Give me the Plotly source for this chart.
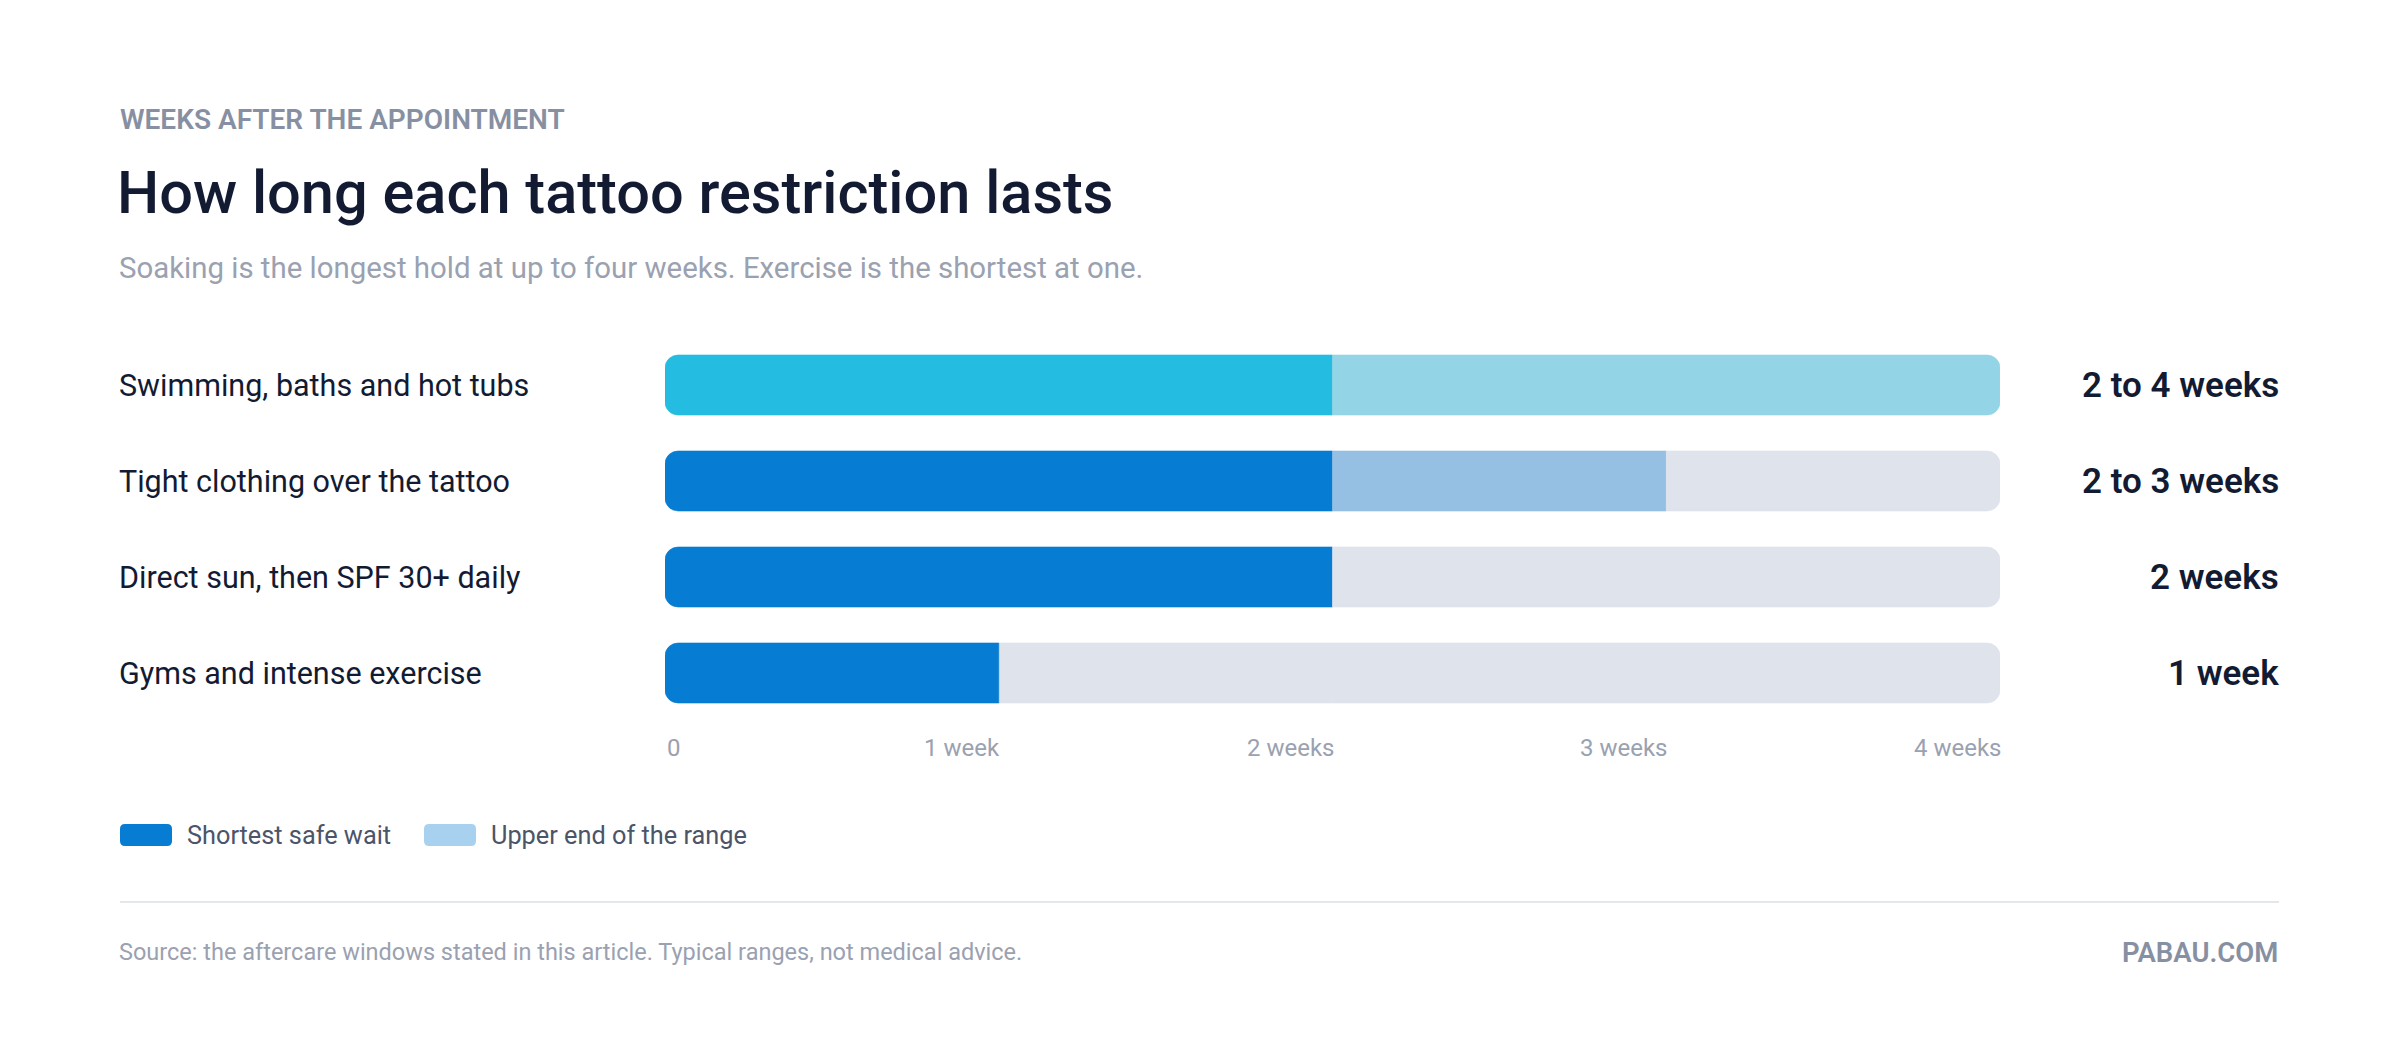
'''Horizontal range bars: how long each tattoo restriction lasts'''
import plotly.graph_objects as go

# Chart data
categories = [
    "Swimming, baths and hot tubs",
    "Tight clothing over the tattoo",
    "Direct sun, then SPF 30+ daily",
    "Gyms and intense exercise",
]
shortest_weeks = [2, 2, 2, 1]
longest_weeks = [4, 3, 2, 1]
range_labels = ["2 to 4 weeks", "2 to 3 weeks", "2 weeks", "1 week"]
highlight = "Swimming, baths and hot tubs"

axis_max = 4
tick_vals = [0, 1, 2, 3, 4]
tick_text = ["0", "1 week", "2 weeks", "3 weeks", "4 weeks"]

legend_labels = ["Shortest safe wait", "Upper end of the range"]

# Colours
BLUE = "#067CD2"
BLUE_LIGHT = "#95BFE3"
CYAN = "#24BDE1"
CYAN_LIGHT = "#93D4E6"
TRACK = "#DFE3EC"
LEGEND_LIGHT = "#A8D0EF"
INK = "#131B33"
MUTED = "#9AA1B0"
EYEBROW = "#8790A2"

FONT = "Roboto"

# Canvas and plot area in pixels
W, H = 2400, 1058
ML, MR, MT, MB = 665, 400, 337, 337
PW, PH = W - ML - MR, H - MT - MB
RADIUS = 13


def px_x(x):
    return (x - ML) / PW


def px_y(y):
    return (H - MB - y) / PH


def split(a, b, pivot):
    '''Length of [a, b] left and right of the pivot (None when empty).'''
    left = max(0, min(b, pivot) - a)
    right = max(0, b - max(a, pivot))
    return (-left if left else None), (right if right else None)


def main():
    n = len(categories)
    # bars are stacked outward from the middle of the scale (relative mode),
    # so only the two outer ends of every row get rounded corners
    pivot = axis_max / 2
    main_col = [CYAN if c == highlight else BLUE for c in categories]
    range_col = [CYAN_LIGHT if c == highlight else BLUE_LIGHT for c in categories]

    parts = {"main": ([], []), "range": ([], []), "track": ([], [])}
    for lo, hi in zip(shortest_weeks, longest_weeks):
        for key, (a, b) in zip(["main", "range", "track"],
                               [(0, lo), (lo, hi), (hi, axis_max)]):
            left, right = split(a, b, pivot)
            parts[key][0].append(left)
            parts[key][1].append(right)

    colours = {"main": main_col, "range": range_col, "track": [TRACK] * n}

    fig = go.Figure()
    # left half: nearest the middle first, then right half
    order = [(0, "track"), (0, "range"), (0, "main"),
             (1, "main"), (1, "range"), (1, "track")]
    for side, key in order:
        fig.add_trace(go.Bar(
            x=parts[key][side], y=categories, orientation="h",
            marker=dict(color=colours[key], cornerradius=RADIUS,
                        line=dict(color=colours[key], width=0.6)),
            hoverinfo="skip", showlegend=False,
        ))

    annotations = []

    # category names and range labels
    for cat, lab in zip(categories, range_labels):
        annotations.append(dict(
            x=px_x(117), y=cat, xref="paper", yref="y", text=cat,
            xanchor="left", yanchor="middle", showarrow=False,
            font=dict(family=FONT, size=30.5, color=INK),
        ))
        annotations.append(dict(
            x=px_x(2281), y=cat, xref="paper", yref="y", text=lab,
            xanchor="right", yanchor="middle", showarrow=False,
            font=dict(family=FONT, size=35, color=INK, weight=600),
        ))

    # x tick labels
    for i, (tv, tt) in enumerate(zip(tick_vals, tick_text)):
        annotations.append(dict(
            x=tv - pivot, y=px_y(748), xref="x", yref="paper", text=tt,
            xanchor="left" if i == 0 else "right", yanchor="middle",
            xshift=0 if i == 0 else 3,
            showarrow=False, font=dict(family=FONT, size=24, color=MUTED),
        ))

    # header
    annotations += [
        dict(x=px_x(118), y=px_y(119), xref="paper", yref="paper",
             text="WEEKS AFTER THE APPOINTMENT", xanchor="left", yanchor="middle",
             showarrow=False, font=dict(family=FONT, size=28, color=EYEBROW, weight=600)),
        dict(x=px_x(115), y=px_y(193), xref="paper", yref="paper",
             text="How long each tattoo restriction lasts", xanchor="left", yanchor="middle",
             showarrow=False, font=dict(family=FONT, size=59.5, color=INK, weight=500)),
        dict(x=px_x(117), y=px_y(268), xref="paper", yref="paper",
             text="Soaking is the longest hold at up to four weeks. Exercise is the shortest at one.",
             xanchor="left", yanchor="middle", showarrow=False,
             font=dict(family=FONT, size=29.4, color=MUTED)),
    ]

    # footer
    annotations += [
        dict(x=px_x(117), y=px_y(952), xref="paper", yref="paper",
             text="Source: the aftercare windows stated in this article. Typical ranges, not medical advice.",
             xanchor="left", yanchor="middle", showarrow=False,
             font=dict(family=FONT, size=23.5, color=MUTED)),
        dict(x=px_x(2280), y=px_y(952), xref="paper", yref="paper",
             text="PABAU.COM", xanchor="right", yanchor="middle", showarrow=False,
             font=dict(family=FONT, size=27.5, color=EYEBROW, weight=600)),
    ]

    # custom legend: rounded swatches + labels
    sw, sh, r = 52, 22, 5
    swatch = (f"M {r},{-sh/2} H {sw-r} Q {sw},{-sh/2} {sw},{-sh/2+r} "
              f"V {sh/2-r} Q {sw},{sh/2} {sw-r},{sh/2} H {r} "
              f"Q 0,{sh/2} 0,{sh/2-r} V {-sh/2+r} Q 0,{-sh/2} {r},{-sh/2} Z")
    shapes = []
    for x0, col, lab in zip([120, 424], [BLUE, LEGEND_LIGHT], legend_labels):
        shapes.append(dict(
            type="path", xref="paper", yref="paper",
            xsizemode="pixel", ysizemode="pixel",
            xanchor=px_x(x0), yanchor=px_y(835), path=swatch,
            fillcolor=col, line_width=0, layer="above",
        ))
        annotations.append(dict(
            x=px_x(x0 + sw + 13), y=px_y(835), xref="paper", yref="paper", text=lab,
            xanchor="left", yanchor="middle", showarrow=False,
            font=dict(family=FONT, size=25.3, color="#4B5468"),
        ))

    # footer rule
    shapes.append(dict(
        type="line", xref="paper", yref="paper",
        x0=px_x(120), x1=px_x(2279), y0=px_y(902), y1=px_y(902),
        line=dict(color="#E4E7EC", width=2),
    ))

    fig.update_layout(
        width=W, height=H,
        margin=dict(l=ML, r=MR, t=MT, b=MB),
        paper_bgcolor="white", plot_bgcolor="white",
        barmode="relative", bargap=0.375,
        annotations=annotations, shapes=shapes,
        font=dict(family=FONT),
    )
    fig.update_xaxes(range=[-pivot, axis_max - pivot], showgrid=False, zeroline=False,
                     showticklabels=False, fixedrange=True)
    fig.update_yaxes(type="category", categoryorder="array", categoryarray=categories,
                     range=[n - 0.5, -0.5], showgrid=False, zeroline=False,
                     showticklabels=False, fixedrange=True)

    fig.write_html("out.html", config={"displayModeBar": False},
                   post_script="document.body.style.margin='0';")


if __name__ == "__main__":
    main()
